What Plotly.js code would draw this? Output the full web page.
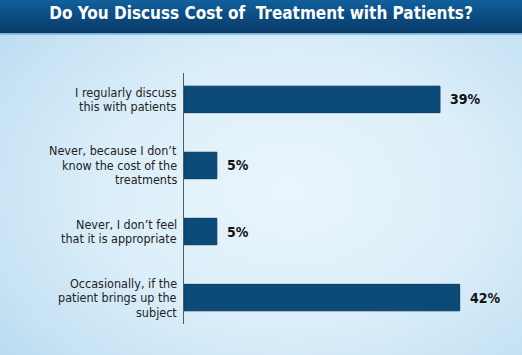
<!DOCTYPE html>
<html>
<head>
<meta charset="utf-8">
<script src="https://cdn.plot.ly/plotly-3.0.1.min.js"></script>
<style>
html,body{margin:0;padding:0;}
#wrap{width:522px;height:355px;position:relative;overflow:hidden;
background:
 linear-gradient(to bottom,#11609c 0px,#0b4a80 18px,#093a66 33px,#6fa9d4 33px,#9cc8e8 35px,rgba(255,255,255,0) 35px),
 radial-gradient(ellipse 420px 300px at 290px 190px,#eaf5fc 0%,#dbeef9 45%,#c2e0f3 80%,#aed4ee 100%);
}
#chart{width:522px;height:355px;}
</style>
</head>
<body>
<div id="wrap"><div id="chart"></div></div>
<script>
const categories = [
  "I regularly discuss<br>this with patients",
  "Never, because I don\u2019t<br>know the cost of the<br>treatments",
  "Never, I don\u2019t feel<br>that it is appropriate",
  "Occasionally, if the<br>patient brings up the<br>subject"
];
const values = [39, 5, 5, 42];
const valueLabels = ["39%", "5%", "5%", "42%"];

const narrow = "DejaVu Sans Condensed, Liberation Sans Narrow, Arial Narrow, sans-serif";
const lineStep = 14.5;

const trace = {
  type: "bar",
  orientation: "h",
  y: categories,
  x: values,
  width: 0.4,
  marker: {color: "#0c4a78", line: {color: "#0a3a60", width: 1}},
  hoverinfo: "none"
};

const annotations = values.map((v, i) => ({
  x: v, y: categories[i], xref: "x", yref: "y",
  text: "<b>" + valueLabels[i] + "</b>",
  showarrow: false, xanchor: "left", yanchor: "middle", xshift: 8,
  font: {family: narrow, size: 14, color: "#111"}
}));

// category labels drawn line by line for tighter line spacing
categories.forEach((c) => {
  const lines = c.split("<br>");
  lines.forEach((ln, j) => {
    annotations.push({
      x: 0, xref: "paper", y: c, yref: "y",
      text: ln, showarrow: false,
      xanchor: "right", yanchor: "middle", xshift: -5,
      yshift: ((lines.length - 1) / 2 - j) * lineStep,
      font: {family: narrow, size: 12.5, color: "#222"}
    });
  });
});

const layout = {
  width: 522, height: 355,
  paper_bgcolor: "rgba(0,0,0,0)",
  plot_bgcolor: "rgba(0,0,0,0)",
  margin: {l: 184, r: 0, t: 73, b: 31, pad: 0},
  showlegend: false,
  title: {
    text: "<b>Do You Discuss Cost of  Treatment with Patients?</b>",
    x: 261 / 522, xref: "container", xanchor: "center",
    y: 1, yref: "container", yanchor: "top", pad: {t: 7},
    font: {family: narrow, size: 17, color: "#ffffff"}
  },
  xaxis: {range: [0, 51.5], visible: false, fixedrange: true},
  yaxis: {
    type: "category",
    range: [3.4, -0.4],
    showline: true, linecolor: "#5a5a5a", linewidth: 1,
    showgrid: false, zeroline: false, ticks: "",
    showticklabels: false,
    fixedrange: true
  },
  annotations: annotations
};

Plotly.newPlot("chart", [trace], layout, {displayModeBar: false, staticPlot: true});
</script>
</body>
</html>
